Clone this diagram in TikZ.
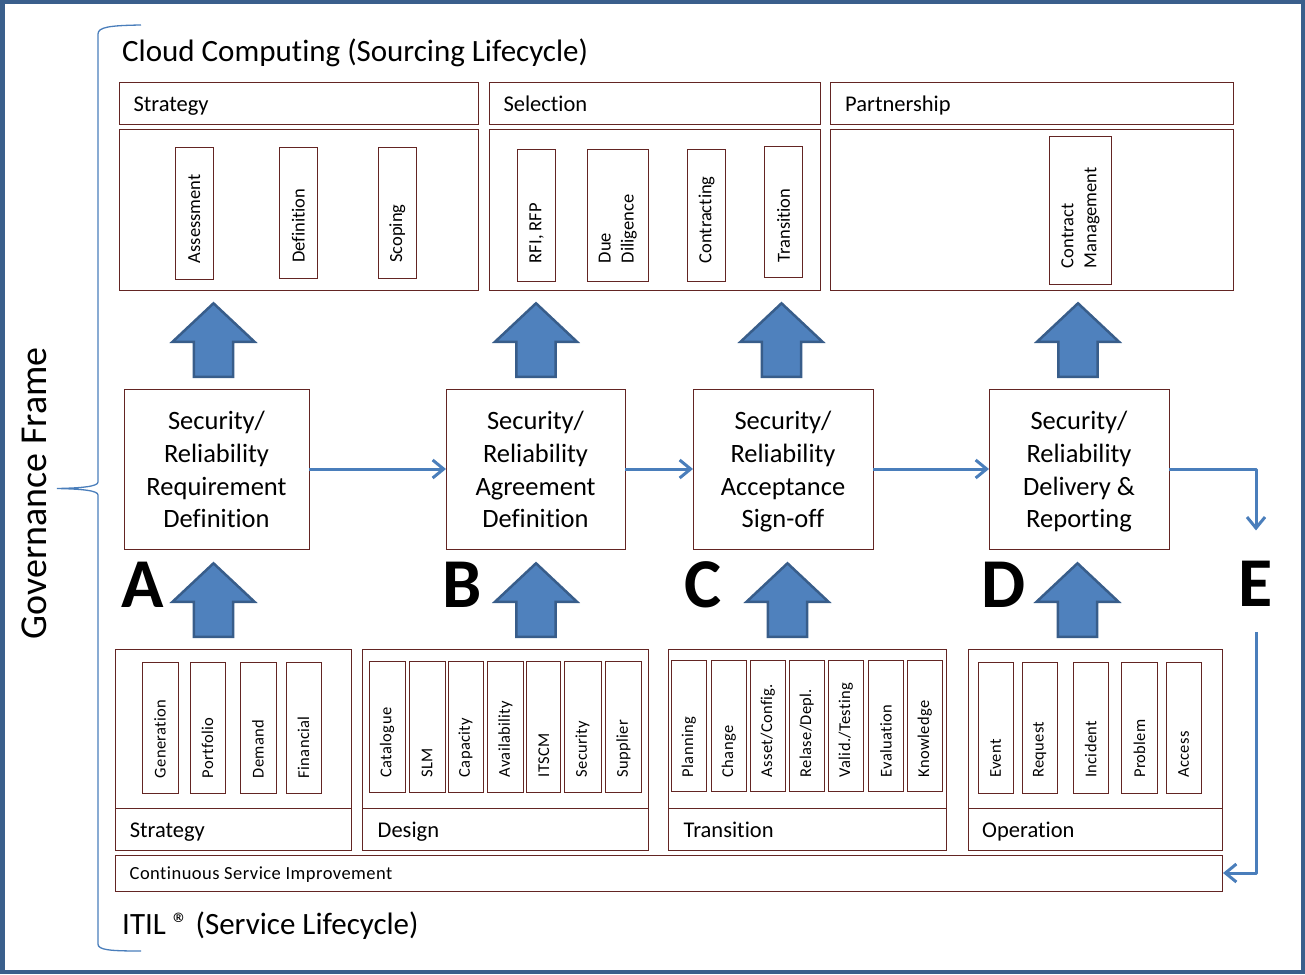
\documentclass[tikz,border=0pt]{standalone}
\usepackage{fontspec}
\setmainfont[Ligatures=NoCommon]{Carlito}
\usetikzlibrary{arrows.meta}
\definecolor{boxred}{HTML}{632523}
\definecolor{afill}{HTML}{4F81BD}
\definecolor{aline}{HTML}{385D8A}
\definecolor{connblue}{HTML}{4A7EBB}
\definecolor{framecol}{HTML}{3A5F8C}
\newcommand\fsz[2]{\fontsize{#1}{#2}\selectfont}
% rectangle node by corners: name, x1, y1, x2, y2
\newcommand\rbox[5]{\node[box, minimum width={#4-#2}, minimum height={#5-#3}] (#1) at ({(#2+#4)/2},{(#3+#5)/2}) {};}
% inner box with vertical text: name, x1, y1, x2, y2, ytext, style, text
\newcommand\ibox[8]{\rbox{#1}{#2}{#3}{#4}{#5}\node[#7] (#1t) at ({(#2+#4)/2},#6) {#8};}
% block arrow: tip x, tip y
\newcommand\barrow[2]{\draw[blockarrow] (#1,#2) -- ({#1+41},{#2+38.5}) -- ({#1+19.7},{#2+38.5}) -- ({#1+19.7},{#2+73.5}) -- ({#1-19.7},{#2+73.5}) -- ({#1-19.7},{#2+38.5}) -- ({#1-41},{#2+38.5}) -- cycle;}
\begin{document}
\begin{tikzpicture}[x=1pt,y=-1pt,
  box/.style={draw=boxred, line width=1pt, inner sep=0pt, outer sep=0pt},
  midtext/.style={inner sep=0pt, align=center, font=\fsz{26.5}{32.7}},
  vtop/.style={rotate=90, anchor=west, inner sep=0pt, align=left, font=\fsz{18.5}{23}},
  vbot/.style={rotate=90, anchor=west, inner sep=0pt, align=left, font=\fsz{16.5}{20}\addfontfeatures{LetterSpace=2}},
  head/.style={anchor=base west, inner sep=0pt, font=\fsz{22.5}{26}},
  title/.style={anchor=base west, inner sep=0pt, font=\fsz{31}{36}},
  letter/.style={anchor=base, inner sep=0pt, font=\fsz{70}{70}\bfseries},
  blockarrow/.style={fill=afill, draw=aline, line width=2.5pt, line join=miter},
  conn/.style={draw=connblue, line width=3pt, line join=round, -{Straight Barb[length=11pt,width=18pt]}},
]
\useasboundingbox (0,0) rectangle (1305,974);
\draw[framecol, line width=4.5pt] (2.25,2.25) rectangle (1302.75,971.75);

% brace
\draw[connblue, line width=1.3pt] (141,25) .. controls (110,25.5) and (98,27) .. (98,34)
  -- (98,482) .. controls (98,486.5) and (82,488) .. (57,488.5)
  .. controls (82,489) and (98,490.5) .. (98,495)
  -- (98,944) .. controls (98,950) and (110,951) .. (141,951);
\node[rotate=90, inner sep=0pt, font=\fsz{38}{40}] (gov) at (34,493.5) {Governance Frame};

% titles
\node[title] (cctitle) at (122,61.5) {Cloud Computing (Sourcing Lifecycle)};
\node[title] (itiltitle) at (122,934.5) {ITIL ® (Service Lifecycle)};

% top boxes
\rbox{tsh}{119}{82}{478}{124}
\rbox{tsb}{119}{129}{478}{290}
\rbox{selh}{489}{82}{820}{124}
\rbox{selb}{489}{129}{820}{290}
\rbox{parh}{830}{82}{1233}{124}
\rbox{parb}{830}{129}{1233}{290}
\node[head] (tsht) at (133.3,111) {Strategy};
\node[head] (selht) at (503.3,111) {Selection};
\node[head] (parht) at (845,111) {Partnership};

\ibox{ass}{175.3}{147.3}{213.3}{279.3}{263.3}{vtop}{Assessment}
\ibox{def}{279.3}{147.3}{317.3}{278}{263}{vtop}{Definition}
\ibox{sco}{378.3}{147.3}{416.3}{278}{263}{vtop}{Scoping}
\ibox{rfi}{517.3}{149.3}{555.7}{281.3}{263.3}{vtop}{RFI, RFP}
\ibox{due}{587.3}{149.3}{648.3}{281.3}{263.3}{vtop}{Due\\Diligence}
\ibox{con}{687.3}{149.3}{725.7}{281.3}{263.5}{vtop}{Contracting}
\ibox{tra}{764.3}{146.3}{802.7}{277.3}{262.7}{vtop}{Transition}
\ibox{cm}{1049.3}{136.3}{1111.7}{284.3}{268.3}{vtop}{Contract\\Management}

% top block arrows
\barrow{213.5}{303.3}
\barrow{536}{303.3}
\barrow{781.5}{303.3}
\barrow{1078}{303.3}

% middle boxes
\rbox{A}{124}{389}{309}{549}
\rbox{B}{446}{389}{625}{549}
\rbox{C}{693}{389}{873}{549}
\rbox{D}{989}{389}{1169}{549}
\node[midtext] (At) at (216.5,472) {Security/\\Reliability\\Requirement\\Definition\vphantom{g}};
\node[midtext] (Bt) at (535.5,472) {Security/\\Reliability\\Agreement\\Definition\vphantom{g}};
\node[midtext] (Ct) at (783,472) {Security/\\Reliability\\Acceptance\\Sign-off\vphantom{g}};
\node[midtext] (Dt) at (1079,472) {Security/\\Reliability\\Delivery \&\\Reporting\vphantom{g}};

% letters
\node[letter] (LA) at (143,607) {A};
\node[letter] (LB) at (462.5,607) {B};
\node[letter] (LC) at (703,607) {C};
\node[letter] (LD) at (1003.5,607) {D};
\node[letter] (LE) at (1256,606) {E};

% connectors
\draw[conn] (A.east) -- (B.west);
\draw[conn] (B.east) -- (C.west);
\draw[conn] (C.east) -- (D.west);
\draw[conn, shorten >=30pt] (D.east) -| (LE.north);

% bottom block arrows
\barrow{213.5}{563.3}
\barrow{536}{563.3}
\barrow{787.5}{563.3}
\barrow{1077.5}{563.3}

% bottom boxes
\rbox{bsb}{115}{649}{351}{808}
\rbox{bsh}{115}{808}{351}{850}
\rbox{bdb}{362}{649}{648}{808}
\rbox{bdh}{362}{808}{648}{850}
\rbox{btb}{668}{649}{946}{808}
\rbox{bth}{668}{808}{946}{850}
\rbox{bob}{968}{649}{1222}{808}
\rbox{boh}{968}{808}{1222}{850}
\rbox{csi}{115}{855}{1222}{891}
\node[head] (bsht) at (129.6,837) {Strategy};
\node[head] (bdht) at (377.5,837) {Design};
\node[head] (btht) at (683.5,837) {Transition};
\node[head] (boht) at (982,837) {Operation};
\node[anchor=base west, inner sep=0pt, font=\fsz{18.5}{20}\addfontfeatures{LetterSpace=2.5}] (csit) at (129.5,879) {Continuous Service Improvement};

% strategy inner
\ibox{gen}{142}{662}{178}{793}{778.3}{vbot}{Generation}
\ibox{por}{190}{662}{225}{793}{778.3}{vbot}{Portfolio}
\ibox{dem}{240}{662}{276}{793}{778.3}{vbot}{Demand}
\ibox{fin}{286}{662}{321}{793}{778.3}{vbot}{Financial}
% design inner
\ibox{cat}{369}{661}{405}{792}{777.5}{vbot}{Catalogue}
\ibox{slm}{409}{661}{445}{792}{777.5}{vbot}{SLM}
\ibox{cap}{448}{661}{483}{792}{777.5}{vbot}{Capacity}
\ibox{ava}{487.5}{661}{523.6}{792}{777.5}{vbot}{Availability}
\ibox{its}{526.8}{661}{560.7}{792}{777.5}{vbot}{ITSCM}
\ibox{sec}{564}{661}{601}{792}{777.5}{vbot}{Security}
\ibox{sup}{605}{661}{641.8}{792}{777.5}{vbot}{Supplier}
% transition inner
\ibox{pla}{671}{660}{706.5}{791}{777.3}{vbot}{Planning}
\ibox{cha}{711}{660}{746.4}{791}{777.3}{vbot}{Change}
\ibox{asc}{750}{660}{785.5}{791}{777.3}{vbot}{Asset/Config.}
\ibox{rel}{789}{660}{824.5}{791}{777.3}{vbot}{Relase/Depl.}
\ibox{val}{828}{660}{863.6}{791}{777.3}{vbot}{Valid./Testing}
\ibox{eva}{868.6}{660}{903.5}{791}{777.3}{vbot}{Evaluation}
\ibox{kno}{907}{660}{942.6}{791}{777.3}{vbot}{Knowledge}
% operation inner
\ibox{eve}{978}{662}{1013.4}{793}{778}{vbot}{Event}
\ibox{req}{1022}{662}{1057.4}{793}{778}{vbot}{Request}
\ibox{inc}{1073}{662}{1108.4}{793}{778}{vbot}{Incident}
\ibox{pro}{1121.5}{662}{1157.3}{793}{778}{vbot}{Problem}
\ibox{acc}{1166}{662}{1201.3}{793}{778}{vbot}{Access}

% E to CSI
\draw[conn, shorten <=26pt, shorten >=1pt] (LE.south) |- (csi.east);
\end{tikzpicture}
\end{document}
